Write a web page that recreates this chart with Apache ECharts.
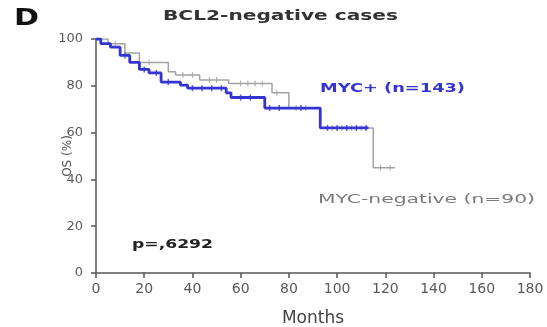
<!DOCTYPE html>
<html>
<head>
<meta charset="utf-8">
<script src="https://cdn.jsdelivr.net/npm/echarts@6/dist/echarts.min.js"></script>
<style>
  html, body { margin: 0; padding: 0; background: #fff; }
  #chart { width: 547px; height: 327px; }
</style>
</head>
<body>
<div id="chart"></div>
<script>
// Kaplan-Meier overall survival, BCL2-negative cases
// Step points: [month, survival %] after each event; last entry = end of follow-up
const mycPosSteps = [
  [0, 100], [2, 98], [6, 96.5], [10, 93], [14, 90], [18, 87], [22, 85.5],
  [27, 81.6], [35, 80.3], [38, 79], [54, 77], [56, 75], [70, 70.5], [93, 62], [113, 62]
];
const mycNegSteps = [
  [0, 100], [5, 98], [12, 94], [18, 90], [30, 86], [33, 84.6], [43, 82.5],
  [55, 81], [73, 77], [80, 70.5], [93, 62], [115, 45], [124, 45]
];
// Censoring times (months)
const mycPosCensor = [12, 20, 25, 30, 40, 44, 48, 52, 60, 64, 72, 76, 85, 96, 100, 104, 108, 112];
const mycNegCensor = [8, 22, 36, 40, 47, 50, 60, 63, 66, 69, 75, 83, 87, 98, 102, 106, 110, 118, 122];

const xTicks = [0, 20, 40, 60, 80, 100, 120, 140, 160, 180];
const yTicks = [0, 20, 40, 60, 80, 100];

const BLUE = '#3434d2';
const GRAY = '#a2a2a2';
const FONT = '"DejaVu Sans", Verdana, sans-serif';

function survivalAt(steps, t) {
  let s = steps[0][1];
  for (const [m, v] of steps) { if (m <= t) s = v; }
  return s;
}
const censorPoints = (steps, times) => times.map(t => [t, survivalAt(steps, t)]);

// Wide annotation text: measured, then stretched horizontally to its box width
const measureCtx = document.createElement('canvas').getContext('2d');
function wideText(text, font, x, yMid, width, fill) {
  measureCtx.font = font;
  const w = measureCtx.measureText(text).width;
  return {
    type: 'text', x: x, y: yMid, scaleX: width / w, z: 10,
    style: { text: text, font: font, fill: fill, x: 0, y: 0,
             textAlign: 'left', textVerticalAlign: 'middle' }
  };
}

const chart = echarts.init(document.getElementById('chart'), null, { renderer: 'canvas' });
chart.setOption({
  animation: false,
  backgroundColor: '#fff',
  grid: { left: 96, right: 17, top: 39, bottom: 54, outerBoundsMode: 'none', containLabel: false },
  xAxis: {
    type: 'value', min: 0, max: 180, interval: 20,
    name: 'Months', nameLocation: 'middle', nameGap: 37, nameMoveOverlap: false,
    nameTextStyle: { fontFamily: FONT, fontSize: 17, color: '#444' },
    axisLine: { lineStyle: { color: '#555', width: 1.5 } },
    axisTick: { show: true, length: 5, lineStyle: { color: '#555', width: 1.5 } },
    axisLabel: { fontFamily: FONT, fontSize: 14, color: '#5a5a5a', margin: 9,
      formatter: v => xTicks.includes(v) ? String(v) : '' },
    splitLine: { show: false }
  },
  yAxis: {
    type: 'value', min: 0, max: 100, interval: 20,
    name: 'OS (%)', nameLocation: 'middle', nameGap: 22, nameRotate: 90, nameMoveOverlap: false,
    nameTextStyle: { fontFamily: FONT, fontSize: 12, color: '#555' },
    axisLine: { show: true, lineStyle: { color: '#555', width: 1.5 } },
    axisTick: { show: true, length: 5, lineStyle: { color: '#555', width: 1.5 } },
    axisLabel: { fontFamily: FONT, fontSize: 13, color: '#5a5a5a', margin: 13,
      formatter: v => yTicks.includes(v) ? String(v) : '' },
    splitLine: { show: false }
  },
  series: [
    { type: 'line', step: 'end', data: mycNegSteps, symbol: 'none',
      lineStyle: { color: GRAY, width: 1.5 }, z: 2 },
    { type: 'scatter', data: censorPoints(mycNegSteps, mycNegCensor),
      symbol: 'rect', symbolSize: [1.2, 6], itemStyle: { color: GRAY }, z: 2 },
    { type: 'line', step: 'end', data: mycPosSteps, symbol: 'none',
      lineStyle: { color: BLUE, width: 2.8 }, z: 3 },
    { type: 'scatter', data: censorPoints(mycPosSteps, mycPosCensor),
      symbol: 'rect', symbolSize: [1.5, 6], itemStyle: { color: BLUE }, z: 3 }
  ],
  graphic: [
    wideText('D', 'bold 23px ' + FONT, 14, 19, 25, '#111'),
    wideText('BCL2-negative cases', 'bold 14px ' + FONT, 163, 16, 235, '#333'),
    wideText('MYC+ (n=143)', 'bold 13px ' + FONT, 320, 89, 145, BLUE),
    wideText('MYC-negative (n=90)', '12px ' + FONT, 318, 200, 217, '#7a7a7a'),
    wideText('p=,6292', 'bold 12px ' + FONT, 132, 245, 81, '#222')
  ]
});
</script>
</body>
</html>
